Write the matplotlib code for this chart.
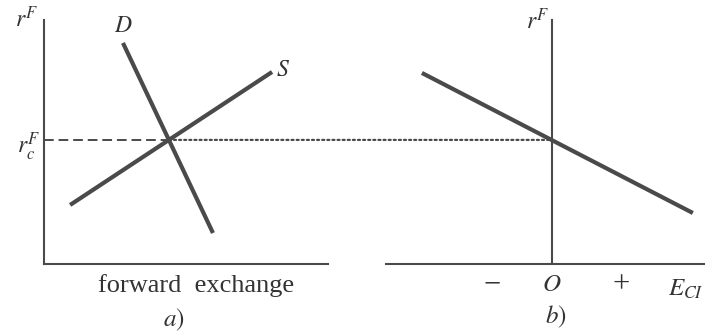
import numpy as np
import matplotlib
matplotlib.use("Agg")
import matplotlib.pyplot as plt
from matplotlib.patches import ConnectionPatch

plt.rcParams["font.family"] = ["Liberation Serif", "DejaVu Serif"]
plt.rcParams["mathtext.fontset"] = "stix"

# Panel a: forward-exchange market (demand D and supply S schedules)
demand_x = [2.78, 5.95]
demand_y = [9.06, 1.27]
supply_x = [0.92, 8.03]
supply_y = [2.42, 7.87]

# Panel b: forward rate against E_CI
panel_b_x = [-4.58, 4.96]
panel_b_y = [7.83, 2.09]

INK = "#4a4a4a"
TEXT = "#333333"
LW_CURVE = 3.0
LW_AXIS = 1.5

fig = plt.figure(figsize=(7.05, 3.33), dpi=100)
fig.patch.set_facecolor("white")

ax_a = fig.add_axes([44 / 705, 69 / 333, 284 / 705, 244 / 333])
ax_b = fig.add_axes([386 / 705, 69 / 333, 319 / 705, 244 / 333])

ax_a.set_xlim(0, 10)
ax_a.set_ylim(0, 10)
ax_b.set_xlim(-166 / 28.4, 153 / 28.4)
ax_b.set_ylim(0, 10)

for ax in (ax_a, ax_b):
    ax.set_facecolor("none")
    ax.set_xticks([])
    ax.set_yticks([])
    for side in ("top", "right"):
        ax.spines[side].set_visible(False)
    for side in ("left", "bottom"):
        ax.spines[side].set_color(INK)
        ax.spines[side].set_linewidth(LW_AXIS)
ax_b.spines["left"].set_position(("data", 0))

ax_a.plot(demand_x, demand_y, color=INK, lw=LW_CURVE, solid_capstyle="butt")
ax_a.plot(supply_x, supply_y, color=INK, lw=LW_CURVE, solid_capstyle="butt")
ax_b.plot(panel_b_x, panel_b_y, color=INK, lw=LW_CURVE, solid_capstyle="butt")

# Equilibrium where the demand and supply schedules cross
md = (demand_y[1] - demand_y[0]) / (demand_x[1] - demand_x[0])
ms = (supply_y[1] - supply_y[0]) / (supply_x[1] - supply_x[0])
x_eq = (supply_y[0] - demand_y[0] + md * demand_x[0] - ms * supply_x[0]) / (md - ms)
r_eq = demand_y[0] + md * (x_eq - demand_x[0])

ax_a.plot([0, x_eq], [r_eq, r_eq], color=INK, lw=1.4, linestyle=(0, (5, 2.5)))
dots = ConnectionPatch(xyA=(x_eq, r_eq), coordsA=ax_a.transData,
                       xyB=(0, r_eq), coordsB=ax_b.transData,
                       color=INK, lw=1.6, linestyle=(0, (0.9, 1.4)))
fig.add_artist(dots)

# Labels of panel a
fig.text(27 / 705, 1 - 19 / 333, r"$r^F$", fontsize=17, color=TEXT,
         ha="center", va="center")
ax_a.annotate(r"$D$", xy=(demand_x[0], demand_y[0]), xytext=(0, 4),
              textcoords="offset points", fontsize=17, color=TEXT,
              ha="center", va="bottom")
ax_a.annotate(r"$S$", xy=(supply_x[1], supply_y[1]), xytext=(3, 1),
              textcoords="offset points", fontsize=17, color=TEXT,
              ha="left", va="center")
ax_a.text(-0.12, r_eq - 0.3, r"$r_c^F$", fontsize=17, color=TEXT,
          ha="right", va="center")
ax_a.text(0.535, -0.115, "forward  exchange", transform=ax_a.transAxes,
          fontsize=19, color=TEXT, ha="center", va="baseline")
fig.text(174 / 705, 1 - 320 / 333, r"$a)$", fontsize=18, color=TEXT,
         ha="center", va="center")

# Labels of panel b
fig.text(538 / 705, 1 - 21 / 333, r"$r^F$", fontsize=17, color=TEXT,
         ha="center", va="center")
ax_b.text(-(552 - 492) / 28.4, -0.85, "\u2212", fontsize=22, color=TEXT,
          ha="center", va="center")
ax_b.text(0, -0.85, r"$O$", fontsize=18, color=TEXT, ha="center", va="center")
ax_b.text((621 - 552) / 28.4, -0.85, "+", fontsize=22, color=TEXT,
          ha="center", va="center")
ax_b.text((668 - 552) / 28.4, -1.3, r"$E_{CI}$", fontsize=18, color=TEXT,
          ha="left", va="baseline")
fig.text(556 / 705, 1 - 317 / 333, r"$b)$", fontsize=18, color=TEXT,
         ha="center", va="center")

fig.savefig("out.png", dpi=100, facecolor="white")
